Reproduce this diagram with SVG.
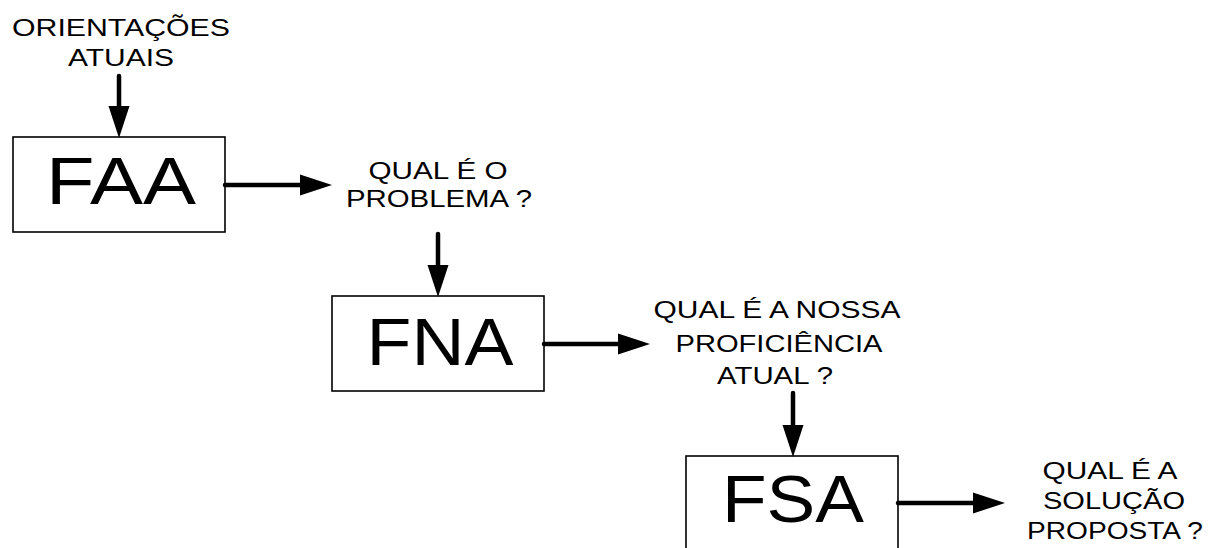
<svg xmlns="http://www.w3.org/2000/svg" width="1217" height="548" viewBox="0 0 1217 548">
<style>
.box{fill:#fff;stroke:#000;stroke-width:1.6}
.big{font-family:"Liberation Sans",Arial,sans-serif;font-size:66px;fill:#000;text-anchor:middle}
.lbl{font-family:"Liberation Sans",Arial,sans-serif;font-size:24px;fill:#000;text-anchor:middle}
.arr{stroke:#000;stroke-width:4.5;fill:none;stroke-linecap:round;marker-end:url(#ah)}
</style>
<defs>
<marker id="ah" markerUnits="userSpaceOnUse" markerWidth="34" markerHeight="22" refX="0" refY="10.5" orient="auto" overflow="visible">
<path d="M0,0 L32,10.5 L0,21 z" fill="#000"/>
</marker>
</defs>
<rect width="1217" height="548" fill="#fff"/>
<g id="orientacoes">
<text class="lbl" x="121" y="36" textLength="218" lengthAdjust="spacingAndGlyphs">ORIENTAÇÕES</text>
<text class="lbl" x="121" y="66" textLength="106" lengthAdjust="spacingAndGlyphs">ATUAIS</text>
</g>
<g id="faa">
<rect class="box" x="13" y="137" width="212" height="95"/>
<text class="big" x="121" y="204" textLength="150" lengthAdjust="spacingAndGlyphs">FAA</text>
</g>
<g id="q1">
<text class="lbl" x="438" y="179" textLength="139" lengthAdjust="spacingAndGlyphs">QUAL É O</text>
<text class="lbl" x="439" y="207" textLength="186" lengthAdjust="spacingAndGlyphs">PROBLEMA ?</text>
</g>
<g id="fna">
<rect class="box" x="332" y="296" width="212" height="95"/>
<text class="big" x="440" y="365" textLength="147" lengthAdjust="spacingAndGlyphs">FNA</text>
</g>
<g id="q2">
<text class="lbl" x="777" y="318" textLength="247" lengthAdjust="spacingAndGlyphs">QUAL É A NOSSA</text>
<text class="lbl" x="779" y="352" textLength="207" lengthAdjust="spacingAndGlyphs">PROFICIÊNCIA</text>
<text class="lbl" x="775" y="384" textLength="116" lengthAdjust="spacingAndGlyphs">ATUAL ?</text>
</g>
<g id="fsa">
<rect class="box" x="686" y="456" width="212" height="100"/>
<text class="big" x="793" y="522" textLength="142" lengthAdjust="spacingAndGlyphs">FSA</text>
</g>
<g id="q3">
<text class="lbl" x="1110" y="479" textLength="135" lengthAdjust="spacingAndGlyphs">QUAL É A</text>
<text class="lbl" x="1114" y="509" textLength="142" lengthAdjust="spacingAndGlyphs">SOLUÇÃO</text>
<text class="lbl" x="1115" y="539" textLength="176" lengthAdjust="spacingAndGlyphs">PROPOSTA ?</text>
</g>
<g id="connectors">
<line class="arr" x1="119" y1="76" x2="119" y2="106"/>
<line class="arr" x1="225" y1="185" x2="300" y2="185"/>
<line class="arr" x1="438" y1="234" x2="438" y2="265"/>
<line class="arr" x1="544" y1="344" x2="618" y2="344"/>
<line class="arr" x1="793" y1="393" x2="793" y2="425"/>
<line class="arr" x1="898" y1="503" x2="973" y2="503"/>
</g>
</svg>
